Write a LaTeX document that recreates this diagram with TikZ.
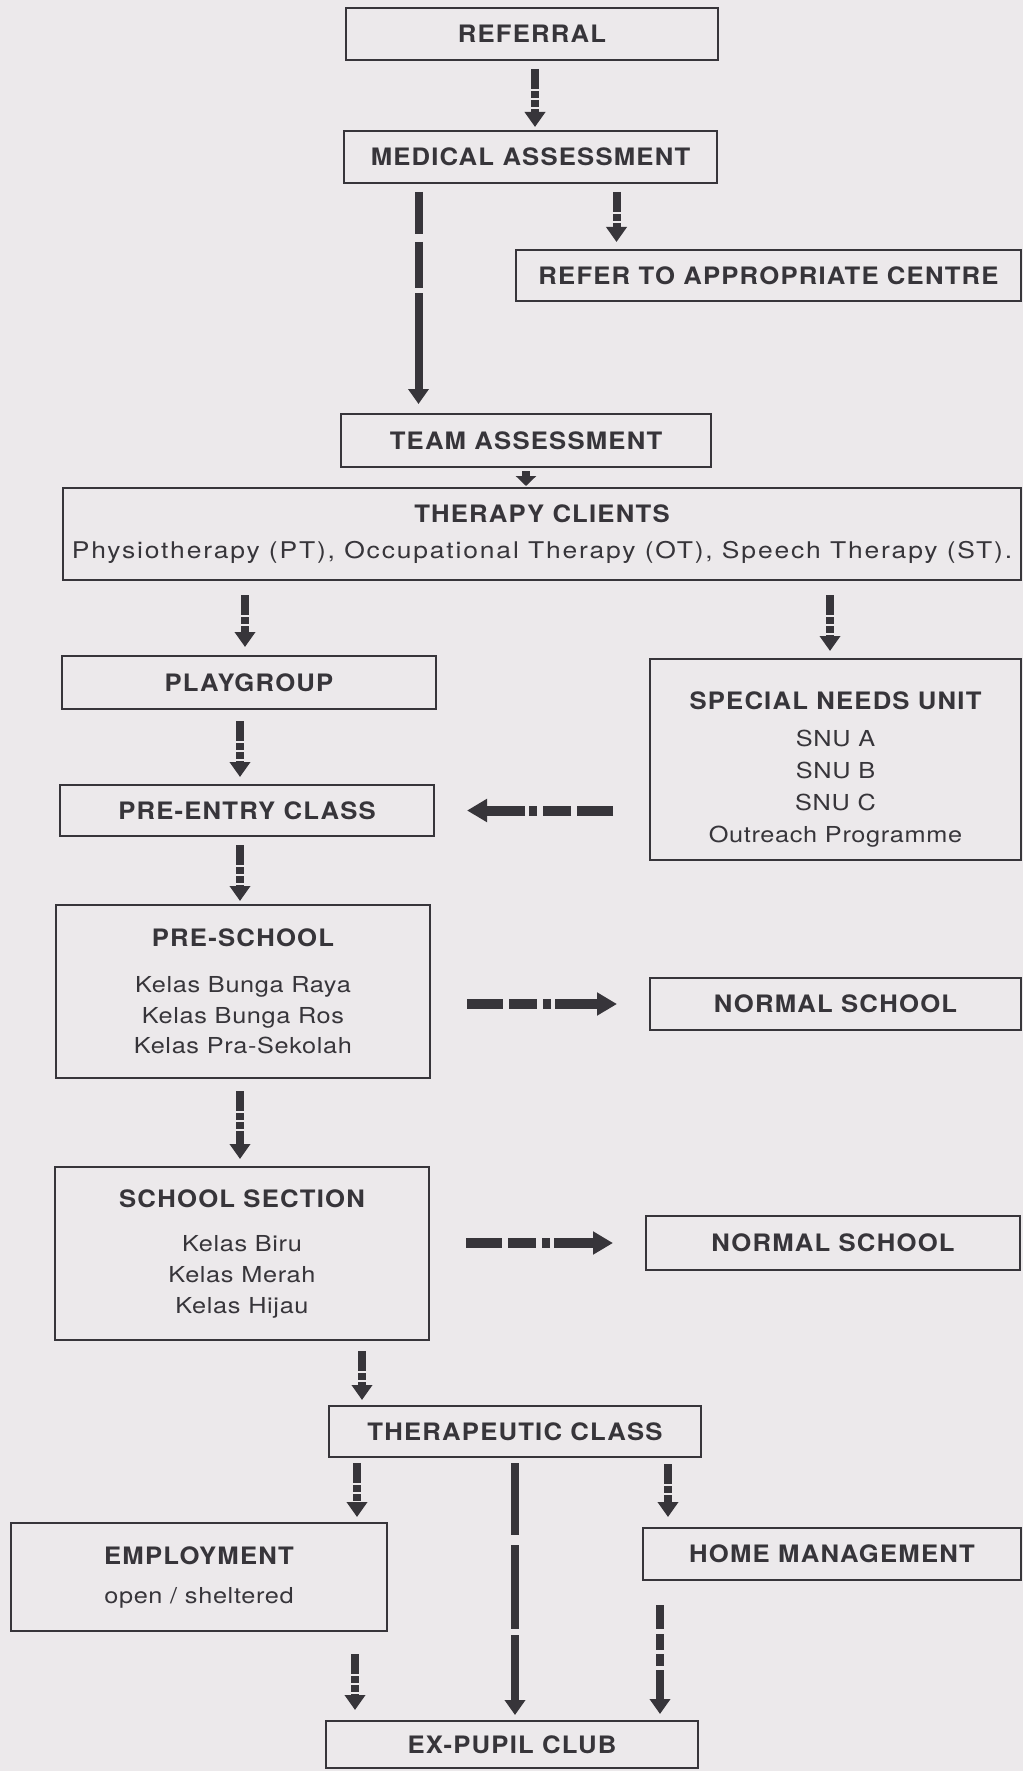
\documentclass[tikz,border=0pt]{standalone}
\usepackage{fontspec}
\setmainfont{TeX Gyre Heros}
\newfontfamily\headfamily[FakeStretch=1.07,LetterSpace=5]{TeX Gyre Heros}
\newfontfamily\bodyfamily[FakeStretch=1.15,LetterSpace=3]{TeX Gyre Heros}
\newfontfamily\widefamily[FakeStretch=1.15,LetterSpace=8]{TeX Gyre Heros}
\newcommand{\headfont}{\headfamily\bfseries\fontsize{12}{15.25}\selectfont}
\newcommand{\bodyfont}{\bodyfamily\mdseries\fontsize{11}{15.25}\selectfont}
\usepackage{tikz}
\usetikzlibrary{arrows.meta}
\definecolor{ink}{RGB}{55,53,58}
\definecolor{paper}{RGB}{236,233,235}

\tikzset{%
	box/.style={draw=ink, line width=1pt, fill=paper, text=ink, inner sep=0pt,
		minimum width=186pt, minimum height=26pt, align=center, font=\headfont},
	flow/.style={draw=ink, line width=4pt, -{Triangle[width=10pt,length=7.5pt]},
		shorten <=4pt, shorten >=1.5pt,
		dash pattern=on 10pt off 1pt on 3.5pt off 1pt on 3.5pt off 1pt on 60pt},
	longflow/.style={flow, dash pattern=on 21pt off 4pt on 23pt off 2.5pt on 80pt},
	sideflow/.style={flow, line width=5pt, -{Triangle[width=11pt,length=10pt]},
		shorten <=18pt, shorten >=16pt,
		dash pattern=on 18pt off 3pt on 14pt off 3pt on 4pt off 2pt on 40pt}
}

\begin{document}
\begin{tikzpicture}[x=0.5pt,y=-0.5pt]
	\fill[paper] (0,0) rectangle (1023,1771);
	\useasboundingbox (0,0) rectangle (1023,1771);

	\node[box] (referral) at (532,34) {REFERRAL};
	\node[box, minimum width=186.5pt] (medical) at (530.5,157) {MEDICAL ASSESSMENT};
	\node[box, minimum width=252.5pt, minimum height=25.5pt] (refer) at (768.5,275.5) {REFER TO APPROPRIATE CENTRE};
	\node[box, minimum width=185pt, minimum height=26.5pt] (team) at (526,440.5) {TEAM ASSESSMENT};
	\node[box, minimum width=479pt, minimum height=46pt] (therapy) at (542,534)
		{THERAPY CLIENTS\\[2.75pt]{\widefamily\mdseries\fontsize{11.5}{15.25}\selectfont Physiotherapy (PT), Occupational Therapy (OT), Speech Therapy (ST).}};
	\node[box, minimum width=187pt, minimum height=26.5pt] (playgroup) at (249,682.5) {PLAYGROUP};
	\node[box, minimum width=185.5pt, minimum height=100.5pt, font={\headfont\baselineskip=16pt}] (snu) at (835.5,759.5)
		{\rule{0pt}{18.6pt}SPECIAL NEEDS UNIT\\[2.5pt]{\bodyfont SNU A}\\{\bodyfont SNU B}\\{\bodyfont SNU C}\\{\bodyfont Outreach Programme}};
	\node[box, minimum width=187pt, minimum height=25.5pt] (preentry) at (247,810.5) {PRE-ENTRY CLASS};
	\node[box, minimum width=187pt, minimum height=86.5pt] (preschool) at (243,991.5)
		{PRE-SCHOOL\\[8pt]{\bodyfont Kelas Bunga Raya}\\{\bodyfont Kelas Bunga Ros}\\{\bodyfont Kelas Pra-Sekolah}};
	\node[box, minimum width=185.5pt] (normal1) at (835.5,1004) {NORMAL SCHOOL};
	\node[box, minimum width=187pt, minimum height=86.5pt, font={\headfont\baselineskip=15.5pt}] (school) at (242,1253.5)
		{SCHOOL SECTION\\[6.5pt]{\bodyfont Kelas Biru}\\{\bodyfont Kelas Merah}\\{\bodyfont Kelas Hijau}};
	\node[box, minimum width=187pt, minimum height=27pt] (normal2) at (833,1243) {NORMAL SCHOOL};
	\node[box, minimum height=25.5pt] (therapeutic) at (515,1431.5) {THERAPEUTIC CLASS};
	\node[box, minimum width=188pt, minimum height=54pt] (employment) at (199,1577)
		{EMPLOYMENT\\[4.25pt]{\bodyfont open / sheltered}};
	\node[box, minimum width=189pt] (home) at (832,1554) {HOME MANAGEMENT};
	\node[box, minimum width=186pt, minimum height=23.5pt] (expupil) at (512,1744.5) {EX-PUPIL CLUB};

	\draw[flow] ([xshift=1.5pt]referral.south) -- ([xshift=1.5pt]referral.south |- medical.north);
	\draw[longflow, shorten >=4.5pt] ([xshift=-56pt]medical.south) -- ([xshift=-56pt]medical.south |- team.north);
	\draw[flow, shorten >=3.5pt] ([xshift=43pt]medical.south) -- ([xshift=43pt]medical.south |- refer.north);
	\draw[flow, shorten <=1.5pt, shorten >=0.5pt, -{Triangle[width=10pt,length=5pt]}] (team.south) -- (team.south |- therapy.north);
	\draw[flow, shorten <=7pt, shorten >=4pt] ([xshift=-148.5pt]therapy.south) -- ([xshift=-148.5pt]therapy.south |- playgroup.north);
	\draw[flow, shorten <=7pt, shorten >=3.5pt] ([xshift=144pt]therapy.south) -- ([xshift=144pt]therapy.south |- snu.north);
	\draw[flow, shorten <=5.5pt, shorten >=3.5pt] ([xshift=-4.5pt]playgroup.south) -- ([xshift=-4.5pt]playgroup.south |- preentry.north);
	\draw[flow] ([xshift=-3.5pt]preentry.south) -- ([xshift=-3.5pt]preentry.south |- preschool.north);
	\draw[flow, shorten <=6pt, shorten >=3.5pt] ([xshift=-1.5pt]preschool.south) -- ([xshift=-1.5pt]preschool.south |- school.north);
	\draw[sideflow] (snu.west |- preentry.east) -- (preentry.east);
	\draw[sideflow] (preschool.east |- normal1.west) -- (normal1.west);
	\draw[sideflow] (school.east |- normal2.west) -- (normal2.west);
	\draw[flow, shorten <=5pt, shorten >=2.5pt] ([xshift=60pt]school.south) -- ([xshift=60pt]school.south |- therapeutic.north);
	\draw[flow, shorten <=2.5pt, shorten >=2.5pt] ([xshift=-79pt]therapeutic.south) -- ([xshift=-79pt]therapeutic.south |- employment.north);
	\draw[longflow, shorten <=2.5pt, shorten >=2.5pt, dash pattern=on 36pt off 5pt on 42pt off 3pt on 80pt] (therapeutic.south) -- (therapeutic.south |- expupil.north);
	\draw[flow, shorten <=3pt, shorten >=5pt] ([xshift=76.5pt]therapeutic.south) -- ([xshift=76.5pt]therapeutic.south |- home.north);
	\draw[flow, shorten <=11pt, shorten >=5pt] ([xshift=78pt]employment.south) -- ([xshift=78pt]employment.south |- expupil.north);
	\draw[flow, shorten <=12pt, shorten >=3pt, dash pattern=on 12pt off 2.5pt on 8pt off 2pt on 6pt off 2pt on 60pt] ([xshift=-86pt]home.south) -- ([xshift=-86pt]home.south |- expupil.north);
\end{tikzpicture}
\end{document}
